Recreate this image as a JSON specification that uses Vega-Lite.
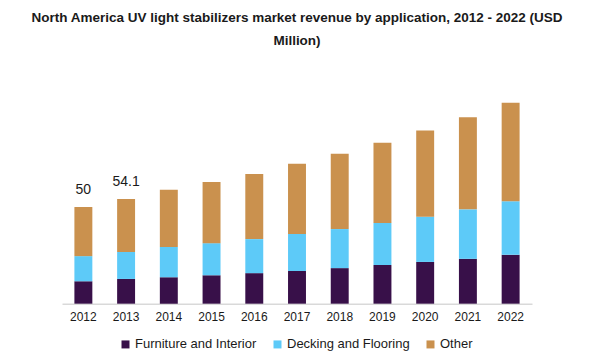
{
  "$schema": "https://vega.github.io/schema/vega-lite/v6.json",
  "autosize": "none",
  "width": 470,
  "height": 232,
  "padding": {"left": 62, "top": 71.7, "right": 59, "bottom": 53},
  "background": "white",
  "title": {
    "text": ["North America UV light stabilizers market revenue by application, 2012 - 2022 (USD", "Million)"],
    "font": "Liberation Sans",
    "fontSize": 13.5,
    "fontWeight": "bold",
    "color": "#1a1a1a",
    "lineHeight": 23,
    "anchor": "middle",
    "offset": 24
  },
  "config": {"view": {"stroke": null}, "font": "Liberation Sans"},
  "data": {
    "values": [
      {"year": "2012", "segment": "Furniture and Interior", "value": 11.6},
      {"year": "2012", "segment": "Decking and Flooring", "value": 13.0},
      {"year": "2012", "segment": "Other", "value": 25.4},
      {"year": "2013", "segment": "Furniture and Interior", "value": 12.8},
      {"year": "2013", "segment": "Decking and Flooring", "value": 14.0},
      {"year": "2013", "segment": "Other", "value": 27.3},
      {"year": "2014", "segment": "Furniture and Interior", "value": 13.7},
      {"year": "2014", "segment": "Decking and Flooring", "value": 15.6},
      {"year": "2014", "segment": "Other", "value": 29.6},
      {"year": "2015", "segment": "Furniture and Interior", "value": 14.7},
      {"year": "2015", "segment": "Decking and Flooring", "value": 16.6},
      {"year": "2015", "segment": "Other", "value": 31.7},
      {"year": "2016", "segment": "Furniture and Interior", "value": 15.8},
      {"year": "2016", "segment": "Decking and Flooring", "value": 17.6},
      {"year": "2016", "segment": "Other", "value": 33.7},
      {"year": "2017", "segment": "Furniture and Interior", "value": 16.9},
      {"year": "2017", "segment": "Decking and Flooring", "value": 19.2},
      {"year": "2017", "segment": "Other", "value": 36.3},
      {"year": "2018", "segment": "Furniture and Interior", "value": 18.4},
      {"year": "2018", "segment": "Decking and Flooring", "value": 20.2},
      {"year": "2018", "segment": "Other", "value": 38.9},
      {"year": "2019", "segment": "Furniture and Interior", "value": 20.0},
      {"year": "2019", "segment": "Decking and Flooring", "value": 21.8},
      {"year": "2019", "segment": "Other", "value": 41.5},
      {"year": "2020", "segment": "Furniture and Interior", "value": 21.6},
      {"year": "2020", "segment": "Decking and Flooring", "value": 23.4},
      {"year": "2020", "segment": "Other", "value": 44.6},
      {"year": "2021", "segment": "Furniture and Interior", "value": 23.2},
      {"year": "2021", "segment": "Decking and Flooring", "value": 25.6},
      {"year": "2021", "segment": "Other", "value": 47.6},
      {"year": "2022", "segment": "Furniture and Interior", "value": 25.3},
      {"year": "2022", "segment": "Decking and Flooring", "value": 27.7},
      {"year": "2022", "segment": "Other", "value": 51.0}
    ]
  },
  "encoding": {
    "x": {
      "field": "year",
      "type": "ordinal",
      "scale": {"paddingInner": 0.58, "paddingOuter": 0.29},
      "axis": {
        "title": null,
        "labelAngle": 0,
        "labelFont": "Liberation Sans",
        "labelFontSize": 12,
        "labelColor": "#1a1a1a",
        "labelPadding": 8,
        "ticks": false,
        "domainColor": "#d9d9d9",
        "domainWidth": 1.5,
        "grid": false
      }
    }
  },
  "layer": [
    {
      "mark": {"type": "bar"},
      "encoding": {
        "y": {
          "field": "value",
          "type": "quantitative",
          "aggregate": "sum",
          "stack": "zero",
          "scale": {"domain": [0, 120]},
          "axis": null
        },
        "color": {
          "field": "segment",
          "type": "nominal",
          "scale": {
            "domain": ["Furniture and Interior", "Decking and Flooring", "Other"],
            "range": ["#381049", "#5DCAF8", "#CA914E"]
          },
          "legend": {
            "title": null,
            "orient": "none",
            "legendX": 57,
            "legendY": 266,
            "direction": "horizontal",
            "symbolType": "square",
            "symbolSize": 64,
            "symbolStrokeWidth": 0,
            "labelFont": "Liberation Sans",
            "labelFontSize": 13,
            "labelColor": "#1a1a1a",
            "columnPadding": 14,
            "labelOffset": 3
          }
        },
        "order": {"field": "segmentOrder", "type": "quantitative"}
      },
      "transform": [
        {"calculate": "indexof(['Furniture and Interior','Decking and Flooring','Other'], datum.segment)", "as": "segmentOrder"}
      ]
    },
    {
      "transform": [
        {"aggregate": [{"op": "sum", "field": "value", "as": "total"}], "groupby": ["year"]},
        {"filter": "datum.year == '2012' || datum.year == '2013'"}
      ],
      "mark": {"type": "text", "baseline": "bottom", "dy": -10, "font": "Liberation Sans", "fontSize": 14, "color": "#1a1a1a"},
      "encoding": {
        "y": {"field": "total", "type": "quantitative"},
        "text": {"field": "total", "type": "quantitative", "format": ".1~f"}
      }
    }
  ]
}
